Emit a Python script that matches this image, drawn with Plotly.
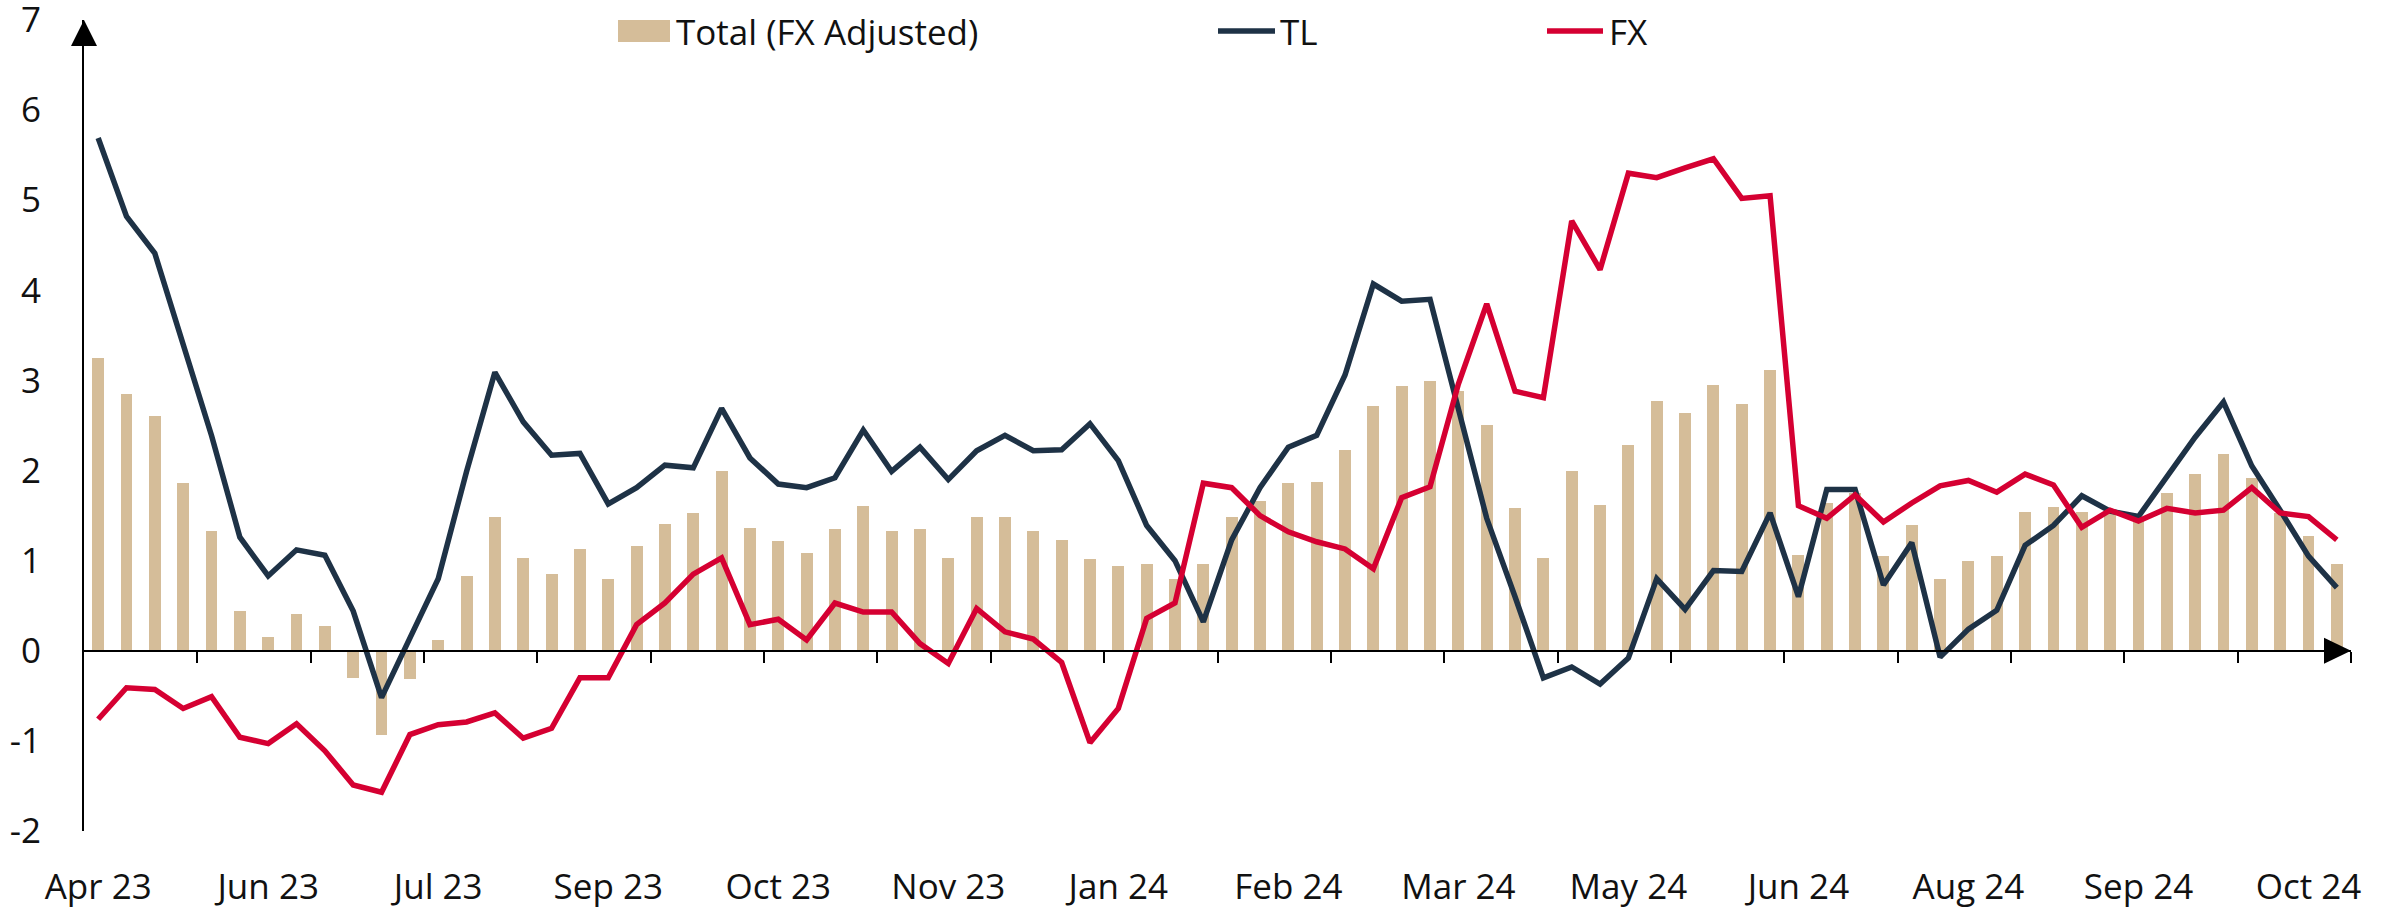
import plotly.graph_objects as go

# Weekly series, April 2023 - October 2024 (80 weeks)
tick_labels = ["Apr 23", "Jun 23", "Jul 23", "Sep 23", "Oct 23", "Nov 23", "Jan 24",
               "Feb 24", "Mar 24", "May 24", "Jun 24", "Aug 24", "Sep 24", "Oct 24"]

total_fx_adjusted = [
    3.25, 2.85, 2.61, 1.86, 1.33, 0.44, 0.15, 0.41, 0.27, -0.30,
    -0.94, -0.31, 0.12, 0.83, 1.49, 1.03, 0.85, 1.13, 0.80, 1.16,
    1.41, 1.53, 2.00, 1.36, 1.22, 1.09, 1.35, 1.61, 1.33, 1.35,
    1.03, 1.48, 1.48, 1.33, 1.23, 1.02, 0.94, 0.96, 0.80, 0.96,
    1.48, 1.66, 1.86, 1.87, 2.23, 2.72, 2.94, 2.99, 2.88, 2.51,
    1.59, 1.03, 1.99, 1.62, 2.28, 2.77, 2.64, 2.95, 2.74, 3.12,
    1.06, 1.64, 1.75, 1.05, 1.40, 0.80, 1.00, 1.05, 1.54, 1.60,
    1.54, 1.53, 1.47, 1.75, 1.96, 2.18, 1.92, 1.53, 1.27, 0.96,
]

tl = [
    5.69, 4.82, 4.41, 3.39, 2.39, 1.26, 0.83, 1.12, 1.06, 0.44,
    -0.52, 0.14, 0.80, 1.99, 3.09, 2.54, 2.17, 2.19, 1.63, 1.81,
    2.06, 2.03, 2.69, 2.14, 1.85, 1.81, 1.92, 2.45, 1.99, 2.26,
    1.90, 2.22, 2.39, 2.22, 2.23, 2.52, 2.11, 1.39, 1.00, 0.32,
    1.23, 1.81, 2.26, 2.39, 3.06, 4.07, 3.88, 3.90, 2.70, 1.47,
    0.60, -0.30, -0.18, -0.37, -0.08, 0.80, 0.46, 0.89, 0.88, 1.53,
    0.60, 1.79, 1.79, 0.73, 1.20, -0.07, 0.24, 0.45, 1.17, 1.39,
    1.72, 1.55, 1.49, 1.94, 2.37, 2.76, 2.05, 1.56, 1.05, 0.70,
]

fx = [
    -0.76, -0.41, -0.43, -0.64, -0.51, -0.96, -1.03, -0.81, -1.11, -1.49,
    -1.57, -0.93, -0.82, -0.79, -0.69, -0.97, -0.86, -0.30, -0.30, 0.29,
    0.53, 0.85, 1.03, 0.29, 0.35, 0.12, 0.53, 0.43, 0.43, 0.08,
    -0.14, 0.47, 0.21, 0.13, -0.13, -1.02, -0.64, 0.36, 0.53, 1.86,
    1.81, 1.50, 1.32, 1.21, 1.13, 0.91, 1.70, 1.82, 2.96, 3.85,
    2.88, 2.81, 4.77, 4.23, 5.30, 5.25, 5.36, 5.46, 5.02, 5.05,
    1.61, 1.47, 1.73, 1.43, 1.64, 1.83, 1.89, 1.76, 1.96, 1.84,
    1.37, 1.56, 1.44, 1.58, 1.53, 1.56, 1.81, 1.53, 1.49, 1.23,
]

NAME_TOTAL, NAME_TL, NAME_FX = "Total (FX Adjusted)", "TL", "FX"
BAR_COLOR = "#D5BD99"
TL_COLOR = "#1E3246"
FX_COLOR = "#D50032"
AXIS_COLOR = "#000000"
TEXT_COLOR = "#111111"
FONT = "Open Sans"
LINE_W = 5.5

W, H = 2399, 911
ML, MR, MT, MB = 84, 48, 20, 80
PW, PH = W - ML - MR, H - MT - MB

Y_MIN, Y_MAX = -2, 7
weeks = list(range(len(total_fx_adjusted)))
x_range = [-0.5, len(weeks) - 0.5]
label_pos = weeks[::6]
minor_ticks = [w + 3.5 for w in weeks[::4]]
y_ticks = list(range(Y_MIN, Y_MAX + 1))


def px_x(p):
    return (p - ML) / PW


def px_y(p):
    return 1 - (p - MT) / PH


fig = go.Figure()
fig.add_trace(go.Bar(x=weeks, y=total_fx_adjusted, name=NAME_TOTAL, width=0.42,
                     marker=dict(color=BAR_COLOR, line=dict(width=0)), showlegend=False))
fig.add_trace(go.Scatter(x=weeks, y=tl, name=NAME_TL, mode="lines",
                         line=dict(color=TL_COLOR, width=LINE_W), showlegend=False))
fig.add_trace(go.Scatter(x=weeks, y=fx, name=NAME_FX, mode="lines", xaxis="x2",
                         line=dict(color=FX_COLOR, width=LINE_W), showlegend=False))

# axis arrowheads
shapes = [
    dict(type="path", xref="paper", yref="paper", xsizemode="pixel", ysizemode="pixel",
         xanchor=0, yanchor=1, path="M-13,-26 L13,-26 L0,0 Z",
         fillcolor=AXIS_COLOR, line=dict(width=0)),
    dict(type="path", xref="paper", yref="y", xsizemode="pixel", ysizemode="pixel",
         xanchor=1, yanchor=0, path="M-27,-13 L-27,13 L0,0 Z",
         fillcolor=AXIS_COLOR, line=dict(width=0)),
]

# legend row
leg_y = 31
shapes += [
    dict(type="rect", xref="paper", yref="paper", x0=px_x(618), x1=px_x(670),
         y0=px_y(42), y1=px_y(20), fillcolor=BAR_COLOR, line=dict(width=0)),
    dict(type="line", xref="paper", yref="paper", x0=px_x(1218), x1=px_x(1275),
         y0=px_y(leg_y), y1=px_y(leg_y), line=dict(color=TL_COLOR, width=LINE_W)),
    dict(type="line", xref="paper", yref="paper", x0=px_x(1547), x1=px_x(1603),
         y0=px_y(leg_y), y1=px_y(leg_y), line=dict(color=FX_COLOR, width=LINE_W)),
]
annotations = [
    dict(text=txt, xref="paper", yref="paper", x=px_x(xp), y=px_y(leg_y),
         xanchor="left", yanchor="middle", showarrow=False,
         font=dict(family=FONT, size=35, color=TEXT_COLOR))
    for txt, xp in ((NAME_TOTAL, 674), (NAME_TL, 1278), (NAME_FX, 1607))
]

fig.update_layout(
    width=W, height=H,
    margin=dict(l=ML, r=MR, t=MT, b=MB, autoexpand=False),
    paper_bgcolor="white", plot_bgcolor="white",
    bargap=0, showlegend=False,
    font=dict(family=FONT, size=35, color=TEXT_COLOR),
    xaxis=dict(range=x_range, tickvals=label_pos, ticktext=tick_labels,
               showline=False, showgrid=False, zeroline=False, ticks="",
               ticklabelstandoff=32, tickfont=dict(size=35),
               ticklabeloverflow="allow", automargin=False),
    xaxis2=dict(range=x_range, overlaying="x", anchor="free",
                position=(0 - Y_MIN) / (Y_MAX - Y_MIN),
                tickvals=minor_ticks, ticks="outside", ticklen=11, tickwidth=2,
                tickcolor=AXIS_COLOR, showticklabels=False,
                showline=True, linecolor=AXIS_COLOR, linewidth=2,
                showgrid=False, zeroline=False, automargin=False),
    yaxis=dict(range=[Y_MIN, Y_MAX], tickvals=y_ticks, ticktext=[str(v) for v in y_ticks],
               showline=True, linecolor=AXIS_COLOR, linewidth=2,
               showgrid=False, zeroline=False, ticks="",
               ticklabelstandoff=34, tickfont=dict(size=35),
               ticklabeloverflow="allow", automargin=False),
    shapes=shapes,
    annotations=annotations,
)

fig.write_html("out.html")
